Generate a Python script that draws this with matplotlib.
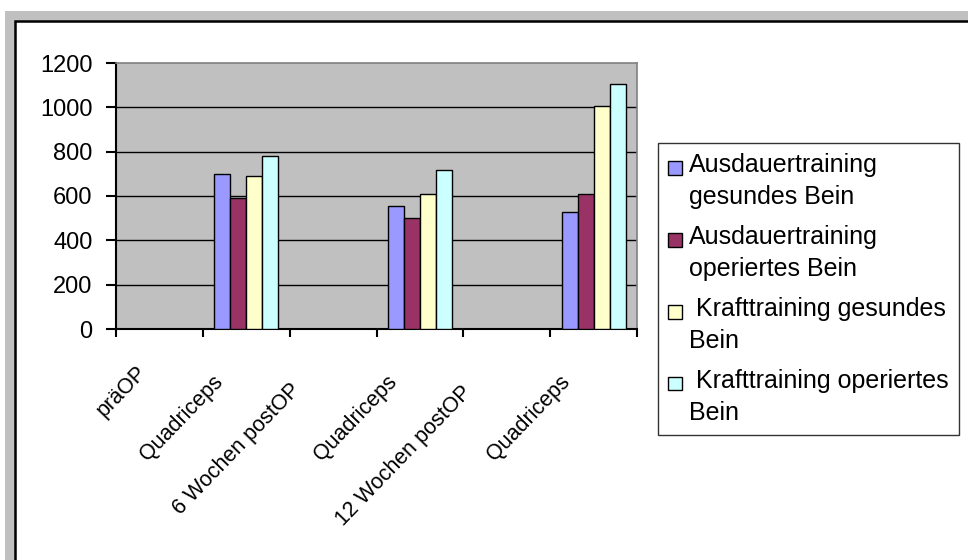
import numpy as np
import matplotlib.pyplot as plt
from matplotlib.patches import Rectangle
from matplotlib.container import BarContainer
from matplotlib.legend_handler import HandlerPatch, update_from_first_child
from matplotlib.ticker import FixedLocator
import matplotlib.transforms as mtransforms

plt.rcParams['font.family'] = ['Liberation Sans', 'DejaVu Sans']

categories = ['präOP', 'Quadriceps', '6 Wochen postOP', 'Quadriceps',
              '12 Wochen postOP', 'Quadriceps']
series_names = ['Ausdauertraining\ngesundes Bein',
                'Ausdauertraining\noperiertes Bein',
                ' Krafttraining gesundes\nBein',
                ' Krafttraining operiertes\nBein']
ausdauer_gesund = [np.nan, 700, np.nan, 555, np.nan, 530]
ausdauer_operiert = [np.nan, 593, np.nan, 500, np.nan, 610]
kraft_gesund = [np.nan, 690, np.nan, 610, np.nan, 1005]
kraft_operiert = [np.nan, 782, np.nan, 718, np.nan, 1105]
yticks = [0, 200, 400, 600, 800, 1000, 1200]

colors = ['#9999FF', '#993366', '#FFFFCC', '#CCFFFF']
all_series = [ausdauer_gesund, ausdauer_operiert, kraft_gesund, kraft_operiert]

W, H = 968, 560
fig = plt.figure(figsize=(W / 100, H / 100), dpi=100)
fig.patch.set_facecolor('white')

# outer frame (gray strip + black border, cropped at right/bottom)
fig.patches.append(Rectangle((5 / W, -0.1), 1.1, (H - 11) / H + 0.1,
                             transform=fig.transFigure, facecolor='#C0C0C0',
                             edgecolor='none', zorder=-10))
fig.patches.append(Rectangle((15 / W, -0.1), 1.1, (H - 21) / H + 0.1,
                             transform=fig.transFigure, facecolor='white',
                             edgecolor='black', linewidth=1.8, zorder=-9))

ax = fig.add_axes([116 / W, (H - 329) / H, 521 / W, 266 / H])
ax.set_facecolor('#C0C0C0')

x = np.arange(len(categories))
bw = 0.184
for i, (vals, col) in enumerate(zip(all_series, colors)):
    ax.bar(x + (i - 1.5) * bw, vals, bw, color=col, edgecolor='black',
           linewidth=1.0, label=series_names[i], zorder=3)

ax.set_xlim(-0.5, len(categories) - 0.5)
ax.set_ylim(0, 1200)
ax.set_yticks(yticks)
ax.set_yticklabels([str(v) for v in yticks], fontsize=17)
for v in yticks[1:-1]:
    ax.axhline(v, color='black', linewidth=1.0, zorder=1)

# category labels, rotated like Excel; longer labels sit a bit further down-left
ax.set_xticks(x)
ax.set_xticklabels([])
ax.tick_params(axis='x', which='major', length=0)
for xi, lab in zip(x, categories):
    n = len(lab)
    shift = mtransforms.ScaledTranslation((-14 - 2.0 * n) / 100, -(24 + 1.8 * n) / 100,
                                          fig.dpi_scale_trans)
    ax.text(xi, 0, lab, transform=ax.get_xaxis_transform() + shift,
            rotation=46, rotation_mode='anchor', ha='right', va='top',
            fontsize=15.5)
ax.xaxis.set_minor_locator(FixedLocator(np.arange(-0.5, len(categories), 1.0)))
ax.tick_params(axis='x', which='minor', length=6, width=1.5, direction='out', color='black')
ax.tick_params(axis='y', length=7, width=1.5, direction='out', color='black', pad=10)

for side in ['top', 'right']:
    ax.spines[side].set_color('#808080')
    ax.spines[side].set_linewidth(1.2)
for side in ['left', 'bottom']:
    ax.spines[side].set_color('black')
    ax.spines[side].set_linewidth(1.5)


def top_square(legend, orig_handle, xdescent, ydescent, width, height, fontsize):
    # square next to the first text line of a two-line label
    yc = -ydescent + height / 2 + 10.0
    return Rectangle((-xdescent, yc - width / 2), width, width)


handles, labels = ax.get_legend_handles_labels()
leg = fig.legend(handles, labels, loc='upper left',
                 bbox_to_anchor=(658 / W, 1 - 143 / H),
                 fontsize=18, frameon=True, fancybox=False, shadow=False,
                 handlelength=0.55, handletextpad=0.3,
                 labelspacing=0.62, borderpad=0.4, borderaxespad=0,
                 handler_map={BarContainer: HandlerPatch(patch_func=top_square,
                                                         update_func=update_from_first_child)})
leg.get_frame().set_edgecolor('black')
leg.get_frame().set_linewidth(1.0)
for t in leg.get_texts():
    t.set_linespacing(1.44)

fig.savefig('out.png', dpi=100)
